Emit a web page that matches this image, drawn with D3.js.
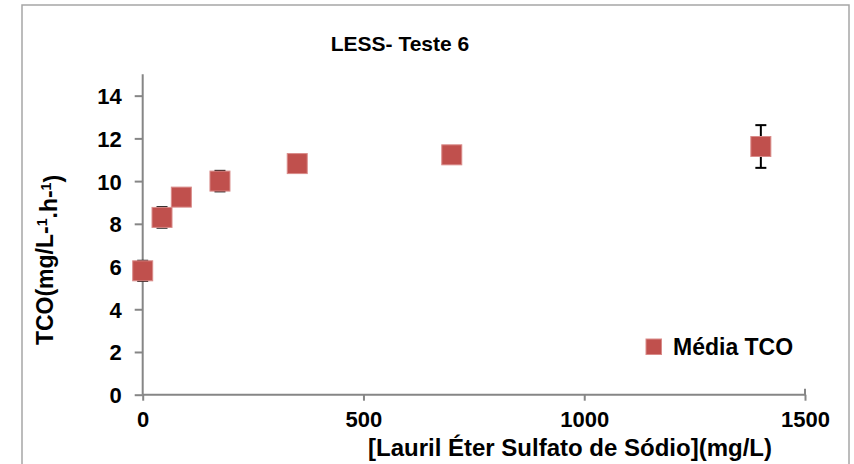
<!DOCTYPE html>
<html>
<head>
<meta charset="utf-8">
<script src="https://cdn.jsdelivr.net/npm/d3@7"></script>
<style>
  html, body { margin: 0; padding: 0; background: #fff; }
  svg { display: block; font-family: "Liberation Sans", Arial, sans-serif; font-weight: bold; }
</style>
</head>
<body>
<svg id="chart" width="854" height="464"></svg>
<script>
// LESS concentration (mg/L) and mean TCO with its deviation
const concentrations = [0, 43.75, 87.5, 175, 350, 700, 1400];
const mediaTCO = [5.8, 8.3, 9.25, 10.0, 10.82, 11.23, 11.62];
const desvio = [0.47, 0.48, 0.2, 0.48, 0.2, 0.2, 1.0];
const xTicks = [0, 500, 1000, 1500];
const yTicks = [0, 2, 4, 6, 8, 10, 12, 14];

const svg = d3.select("#chart");

// outer chart frame
svg.append("rect")
  .attr("x", 22).attr("y", 5).attr("width", 827).attr("height", 470)
  .attr("fill", "#fff").attr("stroke", "#a6a6a6").attr("stroke-width", 1.5);

const plot = { left: 142.7, right: 805, top: 74.3, bottom: 394.7 };
const x = d3.scaleLinear().domain([0, 1500]).range([plot.left, plot.right]);
const y = d3.scaleLinear().domain([0, 15]).range([plot.bottom, plot.top]);

const axisColor = "#868686";

// x axis
const gx = svg.append("g")
  .attr("transform", `translate(0,${plot.bottom})`)
  .call(d3.axisBottom(x).tickValues(xTicks).tickFormat(d3.format("d")).tickSize(6).tickPadding(11));
// y axis
const gy = svg.append("g")
  .attr("transform", `translate(${plot.left},0)`)
  .call(d3.axisLeft(y).tickValues(yTicks).tickFormat(d3.format("d")).tickSize(8).tickPadding(13));

[gx, gy].forEach(g => {
  g.select(".domain").attr("stroke", axisColor).attr("stroke-width", 2);
  g.selectAll(".tick line").attr("stroke", axisColor).attr("stroke-width", 2);
  g.selectAll(".tick text")
    .attr("fill", "#000")
    .style("font-family", '"Liberation Sans", Arial, sans-serif')
    .style("font-weight", "bold")
    .style("font-size", "22px");
});
gx.select(".domain").attr("d", `M${plot.left},0H${plot.right}V-6`);
gy.select(".domain").attr("d", `M-0,${plot.bottom}V${plot.top}`);
gy.selectAll(".tick text").attr("dy", "0.36em");

// error bars
const cap = 5.5;
const eb = svg.append("g").attr("stroke", "#000").attr("stroke-width", 2);
concentrations.forEach((c, i) => {
  const cx = x(c), top = y(mediaTCO[i] + desvio[i]), bot = y(mediaTCO[i] - desvio[i]);
  eb.append("line").attr("x1", cx).attr("x2", cx).attr("y1", top).attr("y2", bot);
  eb.append("line").attr("x1", cx - cap).attr("x2", cx + cap).attr("y1", top).attr("y2", top);
  eb.append("line").attr("x1", cx - cap).attr("x2", cx + cap).attr("y1", bot).attr("y2", bot);
});

// square markers
const ms = 20;
svg.append("g").selectAll("rect")
  .data(concentrations)
  .join("rect")
  .attr("x", (d) => x(d) - ms / 2)
  .attr("y", (d, i) => y(mediaTCO[i]) - ms / 2)
  .attr("width", ms).attr("height", ms)
  .attr("fill", "#c0504d").attr("stroke", "#d98b89").attr("stroke-width", 1);

// title
svg.append("text")
  .attr("x", 400).attr("y", 51)
  .attr("text-anchor", "middle")
  .style("font-size", "21px")
  .text("LESS- Teste 6");

// x axis title
svg.append("text")
  .attr("x", 570).attr("y", 456)
  .attr("text-anchor", "middle")
  .style("font-size", "24px")
  .text("[Lauril Éter Sulfato de Sódio](mg/L)");

// y axis title with superscript exponents
const yt = svg.append("text")
  .attr("transform", "translate(53,260) rotate(-90)")
  .attr("text-anchor", "middle")
  .style("font-size", "23px");
yt.append("tspan").text("TCO(mg/L-");
yt.append("tspan").attr("dy", "-0.45em").style("font-size", "14px").text("1");
yt.append("tspan").attr("dy", "0.45em").text(".h-");
yt.append("tspan").attr("dy", "-0.45em").style("font-size", "14px").text("1");
yt.append("tspan").attr("dy", "0.45em").text(")");

// legend
svg.append("rect")
  .attr("x", 646).attr("y", 339).attr("width", 15.5).attr("height", 15.5)
  .attr("fill", "#c0504d").attr("stroke", "#d98b89").attr("stroke-width", 1);
svg.append("text")
  .attr("x", 673).attr("y", 355)
  .style("font-size", "23px")
  .text("Média TCO");
</script>
</body>
</html>
